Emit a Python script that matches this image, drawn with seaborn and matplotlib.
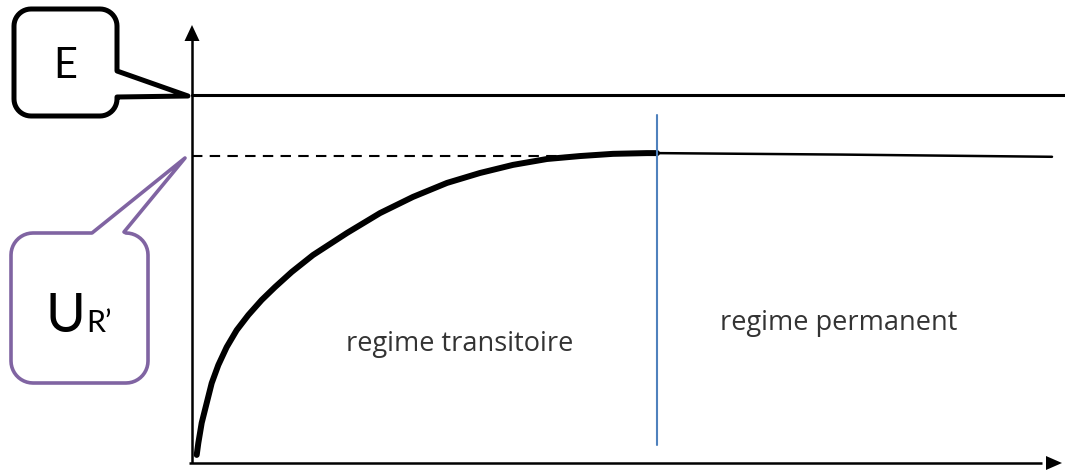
import numpy as np
import pandas as pd
import matplotlib
matplotlib.use("Agg")
import matplotlib.pyplot as plt
import matplotlib.transforms as mtransforms
from matplotlib.path import Path
from matplotlib.patches import PathPatch, Polygon
import seaborn as sns

# ---- data ----
E_value = 10.0          # source voltage E
UR_value = 8.34         # asymptotic value U_R'
t_transient = [0.094, 0.126, 0.194, 0.294, 0.394, 0.526, 0.694, 0.894, 1.126, 1.394,
               1.66, 1.994, 2.42, 3.10, 3.76, 4.42, 5.10, 5.76, 6.42, 7.10, 7.76,
               8.42, 9.10, 9.30]
u_transient = [0.22, 0.54, 1.09, 1.63, 2.17, 2.66, 3.15, 3.61, 4.02, 4.43,
               4.78, 5.19, 5.65, 6.25, 6.79, 7.23, 7.61, 7.88, 8.10, 8.26, 8.34,
               8.40, 8.42, 8.42]
t_steady = [9.30, 13.0, 17.2]
u_steady = [8.42, 8.38, 8.32]
t_boundary = 9.30       # end of transient regime
t_dash_end = 7.56
labels = ["regime transitoire", "regime permanent"]

sns.set_theme(style="white")
plt.rcParams['font.family'] = ['Lato', 'DejaVu Sans']

W, H = 1065, 470
fig = plt.figure(figsize=(W / 100, H / 100), dpi=100)
ax = fig.add_axes([0, 0, 1, 1])
ax.set_xlim(-3.84, 17.46)
ax.set_ylim(-0.19, 12.58)
ax.axis("off")

# pixel transform for decorative callouts (y downward)
pix = mtransforms.Affine2D().scale(1 / W, -1 / H).translate(0, 1) + fig.transFigure

# axes with arrows
ax.plot([0, 0], [0, 11.5], color="black", lw=1.8, solid_capstyle="butt")
ax.plot([-0.05, 17.0], [0, 0], color="black", lw=1.8, solid_capstyle="butt")
ax.add_patch(Polygon([(192, 25), (184.5, 41), (199.5, 41)], closed=True, transform=pix,
                     color="black", lw=0))
ax.add_patch(Polygon([(1062, 463), (1046, 456), (1046, 470)], closed=True, transform=pix,
                     color="black", lw=0))

# E line
ax.plot([0, 17.46], [E_value, E_value], color="black", lw=2.2)

# dashed U_R' line
ax.plot([0, t_dash_end], [UR_value, UR_value], color="black", lw=1.5, ls=(0, (5, 3.5)))

# curves
df_tr = pd.DataFrame({"t": t_transient, "u": u_transient})
sns.lineplot(data=df_tr, x="t", y="u", ax=ax, color="black", lw=4.3, sort=False)
df_st = pd.DataFrame({"t": t_steady, "u": u_steady})
sns.lineplot(data=df_st, x="t", y="u", ax=ax, color="black", lw=1.8, sort=False)

# boundary line
ax.plot([t_boundary, t_boundary], [0.49, 9.46], color="#4F81BD", lw=1.5)

# region labels
ax.text(5.35, 3.23, labels[0], ha="center", va="center", fontsize=19.5, color="#333333",
        family=["Open Sans", "DejaVu Sans"])
ax.text(12.94, 3.80, labels[1], ha="center", va="center", fontsize=19.5, color="#333333",
        family=["Open Sans", "DejaVu Sans"])


def arc(cx, cy, r, a0, a1, n=12):
    a = np.radians(np.linspace(a0, a1, n))
    return [(cx + r * np.cos(x), cy + r * np.sin(x)) for x in a]


def callout(x0, y0, x1, y1, r, side, pts):
    v = []
    v += [(x0 + r, y0)]
    if side == "top":
        v += pts
    v += [(x1 - r, y0)]
    v += arc(x1 - r, y0 + r, r, -90, 0)
    if side == "right":
        v += pts
    v += [(x1, y1 - r)]
    v += arc(x1 - r, y1 - r, r, 0, 90)
    v += [(x0 + r, y1)]
    v += arc(x0 + r, y1 - r, r, 90, 180)
    v += [(x0, y0 + r)]
    v += arc(x0 + r, y0 + r, r, 180, 270)
    codes = [Path.MOVETO] + [Path.LINETO] * (len(v) - 1)
    v.append(v[0])
    codes.append(Path.CLOSEPOLY)
    return Path(v, codes)


pE = callout(14, 9, 117, 116, 17, "right", [(117, 71), (188, 96), (117, 97)])
ax.add_patch(PathPatch(pE, transform=pix, fill=False, ec="black", lw=3.6, joinstyle="round"))
ax.text(65, 78, "E", transform=pix, ha="center", va="baseline", fontsize=30, color="black")

pU = callout(11, 233, 148, 383, 22, "top", [(92, 233), (185, 158), (124, 232)])
ax.add_patch(PathPatch(pU, transform=pix, fill=False, ec="#8064A2", lw=2.6, joinstyle="round"))
ax.text(46, 332, "U", transform=pix, ha="left", va="baseline", fontsize=39, color="black")
ax.text(86, 332, "R\u2019", transform=pix, ha="left", va="baseline", fontsize=22, color="black")

fig.savefig("out.png", dpi=100)
